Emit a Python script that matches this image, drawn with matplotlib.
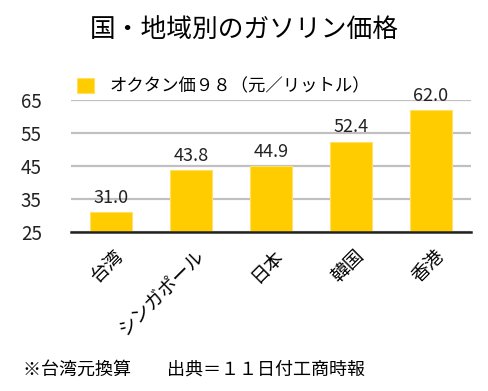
import matplotlib
matplotlib.use("Agg")
import matplotlib.pyplot as plt
from matplotlib.transforms import ScaledTranslation

plt.rcParams['font.family'] = ['Noto Sans CJK JP', 'DejaVu Sans']

categories = ["台湾", "シンガポール", "日本", "韓国", "香港"]
prices = [31.0, 43.8, 44.9, 52.4, 62.0]
yticks = [25, 35, 45, 55, 65]
series_name = "オクタン価９８（元／リットル）"
title = "国・地域別のガソリン価格"
note = "※台湾元換算　　出典＝１１日付工商時報"

bar_color = "#FFCC00"

fig = plt.figure(figsize=(4.88, 3.91), dpi=100)
ax = fig.add_axes([71 / 488, 159 / 391, 400 / 488, 132 / 391])

x = range(len(categories))
bars = ax.bar(x, prices, width=0.52, color=bar_color, edgecolor="#FFE066",
              linewidth=0.8, zorder=3, label=series_name)

for xi, v in zip(x, prices):
    ax.text(xi, v + 1.6, f"{v:.1f}", ha="center", va="bottom", fontsize=13,
            color="#222222", clip_on=False, zorder=4)

ax.set_xlim(-0.5, len(categories) - 0.5)
ax.set_ylim(25, 65)
ax.set_yticks(yticks)
ax.yaxis.grid(True, color="#C0C0C0", linewidth=1.6, zorder=0)
ax.set_axisbelow(True)

for s in ["top", "right", "left"]:
    ax.spines[s].set_visible(False)
ax.spines["bottom"].set_color("#222222")
ax.spines["bottom"].set_linewidth(1.8)
ax.spines["bottom"].set_zorder(5)

ax.tick_params(axis="y", length=0, pad=21, labelsize=13.5, labelcolor="#222222")
ax.tick_params(axis="x", length=0, pad=15, labelsize=13.5)
ax.set_xticks(list(x))
ax.set_xticklabels(categories, rotation=45, ha="right", va="center",
                   rotation_mode="anchor")
offset = ScaledTranslation(7 / 72, 0, fig.dpi_scale_trans)
for lbl in ax.get_xticklabels():
    lbl.set_transform(lbl.get_transform() + offset)

fig.text(0.5, 1 - 30 / 391, title, ha="center", va="center", fontsize=18.5)

ax.legend(loc="lower left", bbox_to_anchor=(0.01, 1.02), frameon=False,
          fontsize=12.5, handlelength=1.0, handleheight=1.0, handletextpad=0.9,
          borderaxespad=0.0, borderpad=0.1)

fig.text(23 / 488, 1 - 371 / 391, note, ha="left", va="center", fontsize=13)

fig.savefig("out.png", dpi=100)
